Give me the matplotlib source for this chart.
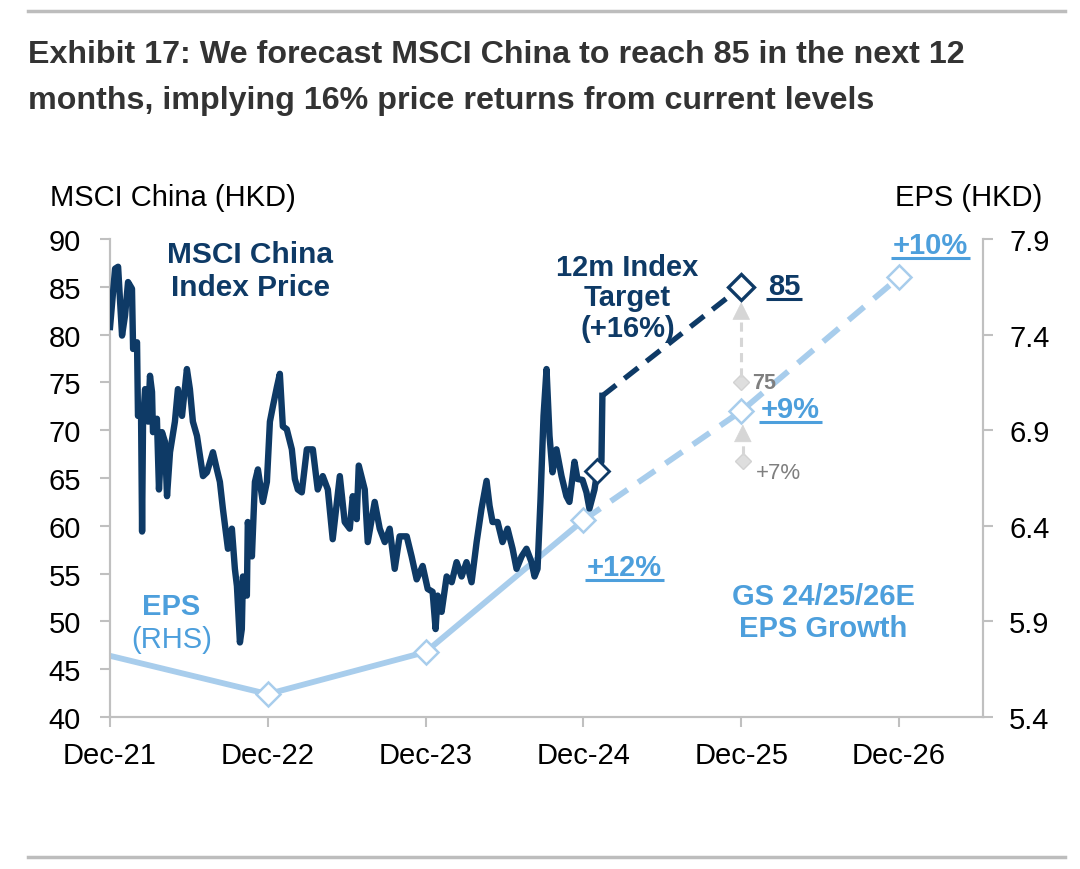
import matplotlib
matplotlib.use("Agg")
import matplotlib.pyplot as plt
from matplotlib.lines import Line2D

# ---- data ----
# years since Dec-21, MSCI China index level (HKD)
price_t = [0, .032, .051, .076, .095, .114, .139, .146, .171, .177, .196, .203, .209, .222,
           .241, .253, .266, .272, .297, .310, .329, .348, .361, .380, .411, .430, .456, .487,
           .506, .525, .551, .570, .589, .614, .652, .677, .696, .715, .747, .772, .791, .804,
           .823, .835, .842, .867, .873, .899, .918, .937, .968, .994, 1.013, 1.032, 1.057,
           1.076, 1.095, 1.120, 1.152, 1.171, 1.190, 1.215, 1.247, 1.285, 1.316, 1.348, 1.380,
           1.411, 1.456, 1.487, 1.519, 1.538, 1.563, 1.576, 1.614, 1.633, 1.677, 1.709, 1.741,
           1.772, 1.804, 1.835, 1.880, 1.911, 1.943, 1.981, 2.013, 2.044, 2.063, 2.076, 2.101,
           2.133, 2.165, 2.196, 2.228, 2.259, 2.291, 2.323, 2.354, 2.386, 2.405, 2.424, 2.456,
           2.487, 2.519, 2.551, 2.576, 2.608, 2.639, 2.671, 2.690, 2.709, 2.728, 2.747, 2.766,
           2.785, 2.804, 2.829, 2.861, 2.892, 2.911, 2.943, 2.962, 2.994, 3.019, 3.038, 3.070,
           3.089, 3.114, 3.120]
price = [80.8, 86.9, 87.1, 79.9, 82.0, 85.5, 84.8, 78.5, 79.2, 71.5, 72.5, 59.4, 70.9, 74.3,
         70.9, 75.7, 74.0, 69.8, 71.2, 63.8, 69.8, 68.8, 63.1, 67.7, 70.9, 74.3, 71.5, 76.4,
         74.3, 70.9, 69.4, 67.3, 65.2, 65.6, 67.7, 65.9, 64.6, 61.8, 57.6, 59.7, 55.5, 53.7,
         47.8, 49.2, 54.7, 52.7, 60.4, 56.8, 64.6, 65.9, 62.5, 64.6, 70.9, 72.5, 74.5,
         75.9, 70.4, 70.1, 68.0, 64.9, 63.8, 63.5, 68.0, 68.0, 63.8, 65.2, 63.8,
         58.6, 65.2, 60.4, 59.7, 63.1, 60.7, 66.3, 63.8, 58.3, 62.5, 59.7, 58.3,
         59.7, 55.5, 58.9, 58.9, 56.8, 54.4, 55.8, 53.4, 53.1, 49.2, 52.7, 51.0,
         54.7, 54.1, 56.2, 54.7, 56.2, 54.1, 58.3, 61.8, 64.7, 62.1, 60.4, 60.4,
         58.3, 59.7, 57.6, 55.5, 56.8, 57.6, 56.2, 54.7, 55.5, 62.8, 71.5, 76.4,
         69.4, 65.6, 68.0, 65.2, 63.1, 62.5, 66.7, 64.9, 64.8, 63.5, 61.8, 63.8,
         65.9, 66.7, 73.6]
marker_t, marker_price = 3.089, 65.7

target_t = [3.120, 4.0]
target_price = [73.6, 85]
bear_t, bear_price = 4.0, 75

eps_t = [0, 1, 2, 3, 4, 5]
eps = [5.72, 5.52, 5.74, 6.43, 7.00, 7.70]
eps_growth = ["+12%", "+9%", "+10%"]
eps_low_t, eps_low = 4.0, 6.74

xticks = [0, 1, 2, 3, 4, 5]
xlabels = ["Dec-21", "Dec-22", "Dec-23", "Dec-24", "Dec-25", "Dec-26"]
left_ticks = [40, 45, 50, 55, 60, 65, 70, 75, 80, 85, 90]
right_ticks = [5.4, 5.9, 6.4, 6.9, 7.4, 7.9]

# ---- style ----
NAVY = "#0e3a66"
LBLUE = "#a8cdec"
TBLUE = "#4d9fdc"
AX = "#c0c0c0"
ARROW = "#d6d6d6"
plt.rcParams["font.family"] = ["Liberation Sans", "DejaVu Sans"]

fig = plt.figure(figsize=(10.8, 8.7), dpi=100)
ax = fig.add_axes([0.1019, 0.1747, 0.808, 0.5494])
ax2 = ax.twinx()
ax.set_zorder(ax2.get_zorder() + 1)
ax.patch.set_visible(False)

for a in (ax, ax2):
    for s in a.spines.values():
        s.set_color(AX)
        s.set_linewidth(1.5)
    a.spines["top"].set_visible(False)
    a.tick_params(colors=AX, labelcolor="black", labelsize=21, length=7, width=1.5)

ax.set_xlim(0, 5.53)
ax.set_ylim(40, 90)
ax.set_yticks(left_ticks)
ax.set_xticks(xticks)
ax.set_xticklabels(xlabels)
ax.tick_params(axis="x", pad=10)
ax.tick_params(axis="y", pad=14)
ax2.set_ylim(5.4, 7.9)
ax2.set_yticks(right_ticks)
ax2.set_yticklabels([f"{v:.1f}" for v in right_ticks])
ax2.tick_params(axis="y", pad=12)

# EPS (RHS)
ax2.plot(eps_t[:4], eps[:4], color=LBLUE, lw=4.2, solid_capstyle="butt", zorder=2)
ax2.plot(eps_t[3:], eps[3:], color=LBLUE, lw=4.2, ls=(0, (3.5, 2.2)), zorder=2)
ax2.plot(eps_t[1:], eps[1:], ls="none", marker="D", ms=12, mfc="white", mec=LBLUE, mew=1.8, zorder=3)

# MSCI China price
ax.plot(price_t, price, color=NAVY, lw=4.6, solid_joinstyle="round", zorder=3)
ax.plot(target_t, target_price, color=NAVY, lw=3.8, ls=(0, (3.3, 2.0)), zorder=3)
ax.plot([marker_t], [marker_price], ls="none", marker="D", ms=12, mfc="white", mec=NAVY, mew=2, zorder=4)
ax.plot([target_t[1]], [target_price[1]], ls="none", marker="D", ms=13, mfc="white", mec=NAVY, mew=2.4, zorder=4)


def grey_arrow(a, x, y0, y1, head):
    # dashed shaft plus a solid filled head
    a.plot([x, x], [y0, y1 - head], color=ARROW, lw=2.2, ls=(0, (3, 2)), zorder=2)
    a.annotate("", xy=(x, y1), xytext=(x, y1 - head),
               arrowprops=dict(arrowstyle="-|>,head_length=0.7,head_width=0.35", color=ARROW,
                               lw=0.5, mutation_scale=17, shrinkA=0, shrinkB=0), zorder=2)


# grey alternative scenario
ax.plot([bear_t], [bear_price], ls="none", marker="D", ms=8, mfc="#dedede", mec="#d2d2d2", zorder=2)
grey_arrow(ax, bear_t, bear_price + 0.6, target_price[1] - 1.6, 1.3)
ax.text(bear_t + 0.07, bear_price, "75", color="#7f7f7f", fontsize=15.5, fontweight="bold",
        va="center", ha="left")
ax2.plot([eps_low_t + 0.01], [eps_low], ls="none", marker="D", ms=8, mfc="#dedede", mec="#d2d2d2", zorder=2)
grey_arrow(ax2, eps_low_t + 0.01, eps_low + 0.03, eps[4] - 0.07, 0.065)
ax2.text(eps_low_t + 0.09, eps_low - 0.06, "+7%", color="#7f7f7f", fontsize=16,
         va="center", ha="left")

# text labels
ax.text(0.89, 86.75, "MSCI China\nIndex Price", color=NAVY, fontsize=21.5, fontweight="bold",
        ha="center", va="center", linespacing=1.22)
ax.text(3.28, 83.9, "12m Index\nTarget\n(+16%)", color=NAVY, fontsize=21, fontweight="bold",
        ha="center", va="center", linespacing=1.1)
ax.text(0.39, 51.6, "EPS", color=TBLUE, fontsize=21, fontweight="bold", ha="center", va="center")
ax.text(0.39, 48.2, "(RHS)", color=TBLUE, fontsize=21, ha="center", va="center")
ax.text(4.52, 51.0, "GS 24/25/26E\nEPS Growth", color=TBLUE, fontsize=21, fontweight="bold",
        ha="center", va="center", linespacing=1.15)

# underlined labels: target and EPS growth
under = [ax.text(4.17, 85.1, "85", color=NAVY, fontsize=21, fontweight="bold", ha="left", va="center"),
         ax.text(3.26, 55.7, eps_growth[0], color=TBLUE, fontsize=21, fontweight="bold", ha="center", va="center"),
         ax.text(4.31, 72.2, eps_growth[1], color=TBLUE, fontsize=21, fontweight="bold", ha="center", va="center"),
         ax.text(5.2, 89.4, eps_growth[2], color=TBLUE, fontsize=21, fontweight="bold", ha="center", va="center")]
fig.canvas.draw()
rend = fig.canvas.get_renderer()
W, H = fig.bbox.width, fig.bbox.height
for t in under:
    bb = t.get_window_extent(rend)
    y = bb.y0 + 1
    fig.add_artist(Line2D([(bb.x0 - 2) / W, (bb.x1 + 2) / W], [y / H, y / H],
                          color=t.get_color(), lw=2.2, solid_capstyle="butt"))

# axis titles
fig.text(50 / 1080, 1 - 198 / 870, "MSCI China (HKD)", fontsize=21, ha="left", va="center")
fig.text(1042 / 1080, 1 - 198 / 870, "EPS (HKD)", fontsize=21, ha="right", va="center")

# title
fig.text(28 / 1080, 1 - 55 / 870, "Exhibit 17: We forecast MSCI China to reach 85 in the next 12",
         fontsize=23.2, fontweight="bold", color="#333333", ha="left", va="center")
fig.text(28 / 1080, 1 - 101 / 870, "months, implying 16% price returns from current levels",
         fontsize=23.2, fontweight="bold", color="#333333", ha="left", va="center")

# frame rules top and bottom
for y in (12, 858):
    fig.add_artist(Line2D([28 / 1080, 1065 / 1080], [1 - y / 870, 1 - y / 870],
                          color="#bdbdbd", lw=2.5))

fig.savefig("out.png", dpi=100)
